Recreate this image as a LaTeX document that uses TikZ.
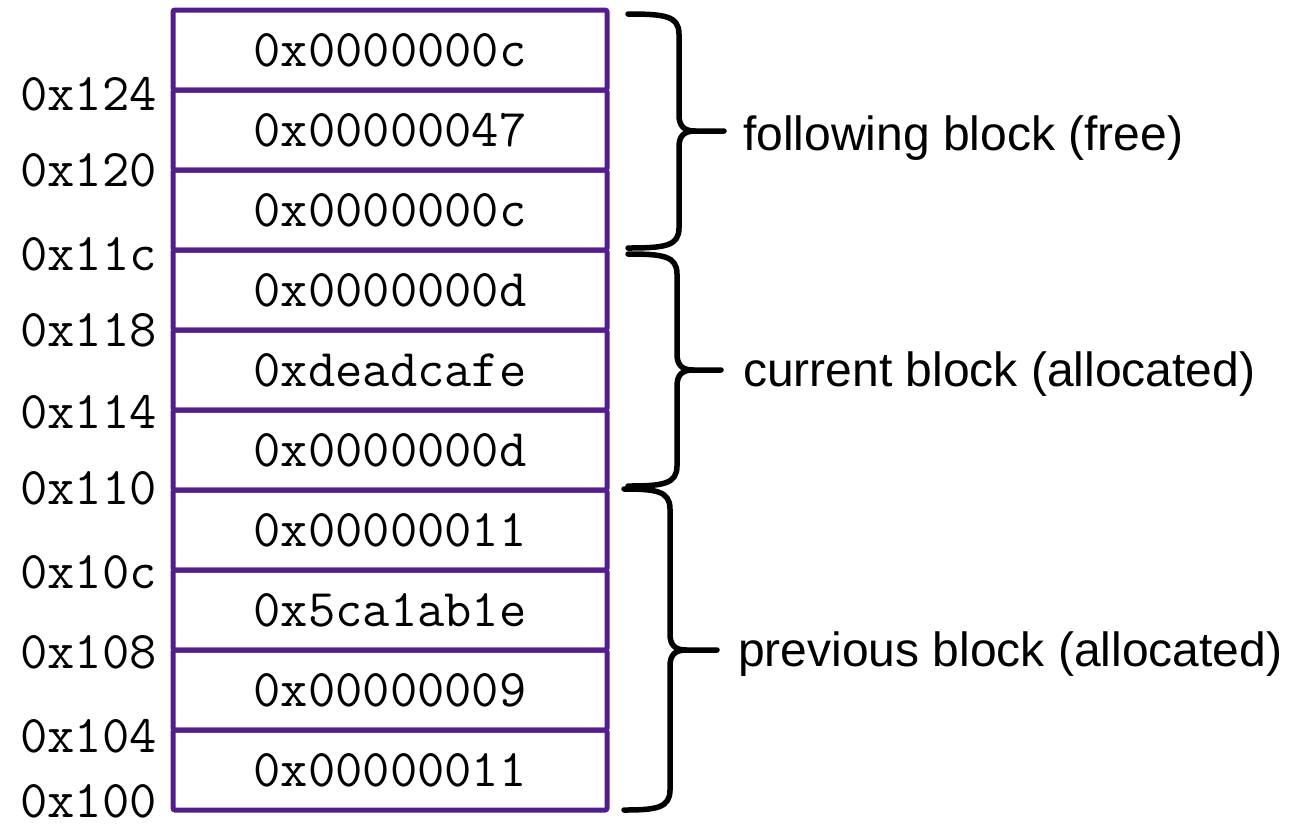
\documentclass[tikz,border=0pt]{standalone}
\usepackage{fontspec}
\setmainfont{Liberation Sans}
\definecolor{cellpurple}{RGB}{84,29,140}
\tikzset{
  cell/.style={draw=cellpurple, line width=5pt, minimum width=434pt, minimum height=80pt,
    inner sep=0pt, outer sep=0pt, rounded corners=2pt, font=\ttfamily\fontsize{53}{53}\selectfont},
  addr/.style={anchor=east, inner sep=0pt, font=\ttfamily\fontsize{53}{53}\selectfont},
  blabel/.style={anchor=base west, inner sep=0pt, font=\fontsize{48}{48}\selectfont},
  bracestyle/.style={draw=black, line width=5.5pt, line cap=round, line join=round}
}
\newcommand{\mybrace}[6]{% xs, yt, xv, ym, yb, xtip
  \draw[bracestyle] (#1,#2) .. controls (#3-14,#2) and (#3,#2+2) .. (#3,#2+20)
     -- (#3,#4-16) .. controls (#3,#4-5) and (#3+5,#4) .. (#3+16,#4) -- (#6,#4);
  \draw[bracestyle] (#3+16,#4) .. controls (#3+5,#4) and (#3,#4+5) .. (#3,#4+16)
     -- (#3,#5-20) .. controls (#3,#5-2) and (#3-14,#5) .. (#1,#5);
}
\begin{document}
\begin{tikzpicture}[x=1pt,y=-1pt]
\useasboundingbox (0,0) rectangle (1298,823);
\node[cell] (c1) at (390,50) {0x0000000c};
\node[cell] (c2) at (390,130) {0x00000047};
\node[cell] (c3) at (390,210) {0x0000000c};
\node[cell] (c4) at (390,290) {0x0000000d};
\node[cell] (c5) at (390,370) {0xdeadcafe};
\node[cell] (c6) at (390,450) {0x0000000d};
\node[cell] (c7) at (390,530) {0x00000011};
\node[cell] (c8) at (390,610) {0x5ca1ab1e};
\node[cell] (c9) at (390,690) {0x00000009};
\node[cell] (c10) at (390,770) {0x00000011};
\node[addr] (a124) at (157,94) {0x124};
\node[addr] (a120) at (157,170) {0x120};
\node[addr] (a11c) at (157,254) {0x11c};
\node[addr] (a118) at (157,330) {0x118};
\node[addr] (a114) at (157,412) {0x114};
\node[addr] (a110) at (157,488) {0x110};
\node[addr] (a10c) at (157,572) {0x10c};
\node[addr] (a108) at (157,652) {0x108};
\node[addr] (a104) at (157,736) {0x104};
\node[addr] (a100) at (157,801) {0x100};
\mybrace{628}{14}{679}{131}{248}{724}
\mybrace{628}{254}{677}{370}{486}{721}
\mybrace{624}{489}{670}{650}{810}{717}
\node[blabel] (l1) at (743,150) {following block (free)};
\node[blabel] (l2) at (743,386) {current block (allocated)};
\node[blabel] (l3) at (738,666) {previous block (allocated)};
\end{tikzpicture}
\end{document}
